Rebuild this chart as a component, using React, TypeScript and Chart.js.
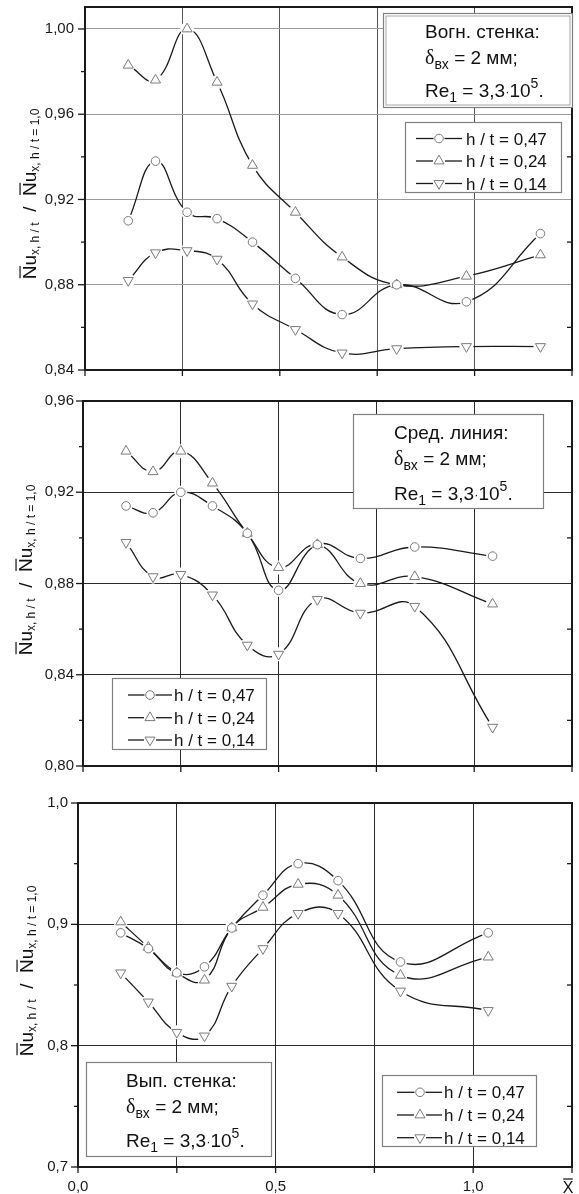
import React, { useEffect, useRef } from 'react';
import { Chart, registerables } from 'chart.js';
import { drawPoint } from 'chart.js/helpers';

Chart.register(...registerables);

const FONT = '"Liberation Sans", Arial, sans-serif';
const SERIF = '"Liberation Serif", "DejaVu Serif", serif';

// ---------- data ----------
const xTicks = [0, 0.25, 0.5, 0.75, 1.0, 1.25];
const xTickLabels = ['0,0', '', '0,5', '', '1,0', ''];
const seriesLabels = ['h / t = 0,47', 'h / t = 0,24', 'h / t = 0,14'];
const wallTitles = ['Вогн. стенка:', 'Сред. линия:', 'Вып. стенка:'];

// Panel 1 – concave wall
const p1YTicks = [0.84, 0.88, 0.92, 0.96, 1.0];
const p1X = [0.111, 0.181, 0.262, 0.339, 0.43, 0.54, 0.66, 0.8, 0.979, 1.169];
const p1H047 = [0.91, 0.938, 0.914, 0.911, 0.9, 0.883, 0.866, 0.88, 0.872, 0.904];
const p1H024 = [0.983, 0.976, 1.0, 0.975, 0.936, 0.914, 0.893, 0.88, 0.884, 0.894];
const p1H014 = [0.882, 0.895, 0.896, 0.892, 0.871, 0.859, 0.848, 0.85, 0.851, 0.851];

// Panel 2 – mid line
const p2YTicks = [0.8, 0.84, 0.88, 0.92, 0.96];
const p2X = [0.11, 0.179, 0.25, 0.331, 0.42, 0.5, 0.599, 0.709, 0.848, 1.047];
const p2H047 = [0.914, 0.911, 0.92, 0.914, 0.902, 0.877, 0.897, 0.891, 0.896, 0.892];
const p2H024 = [0.938, 0.929, 0.938, 0.924, 0.902, 0.887, 0.897, 0.88, 0.883, 0.871];
const p2H014 = [0.898, 0.883, 0.884, 0.875, 0.853, 0.849, 0.873, 0.867, 0.87, 0.817];

// Panel 3 – convex wall
const p3YTicks = [0.7, 0.8, 0.9, 1.0];
const p3X = [0.108, 0.178, 0.25, 0.32, 0.389, 0.468, 0.557, 0.658, 0.816, 1.038];
const p3H047 = [0.893, 0.88, 0.86, 0.865, 0.897, 0.924, 0.95, 0.936, 0.869, 0.893];
const p3H024 = [0.902, 0.881, 0.86, 0.854, 0.897, 0.914, 0.933, 0.924, 0.858, 0.873];
const p3H014 = [0.86, 0.836, 0.811, 0.808, 0.849, 0.88, 0.909, 0.909, 0.845, 0.829];

// ---------- styles ----------
const LINE_COLOR = '#1a1a1a';
const MARKER_COLOR = '#7a7a7a';
const MARKERS = [
  { style: 'circle', rot: 0, r: 4.3, gap: 6.5 },
  { style: 'triangle', rot: 0, r: 5.8, gap: 7 },
  { style: 'triangle', rot: 180, r: 5.8, gap: 7 },
];

type Seg = { t: string; size: number; dy?: number; serif?: boolean; over?: boolean };

interface PanelCfg {
  top: number;
  height: number;
  left: number;
  right: number;
  areaTop: number; // page coords
  areaBottom: number; // page coords
  x: number[];
  series: number[][];
  yMin: number;
  yMax: number;
  yTicks: number[];
  dec: number;
  yPad: number;
  gridH: string;
  gridV: string;
  showX: boolean;
  title: string;
  box: number[]; // x1,y1,x2,y2 page
  boxText: { x: number; base: number[] };
  double: boolean;
  legend: { box: number[]; rows: number[]; l0: number; l1: number; m: number; tx: number };
  yTitle: { x: number; cy: number };
}

const PANELS: PanelCfg[] = [
  {
    top: 0, height: 385, left: 85, right: 578, areaTop: 7, areaBottom: 370,
    x: p1X, series: [p1H047, p1H024, p1H014],
    yMin: 0.84, yMax: 1.0103, yTicks: p1YTicks, dec: 2, yPad: 11,
    gridH: '#9a9a9a', gridV: '#555555', showX: false, title: wallTitles[0],
    box: [383, 13, 573, 108], boxText: { x: 425, base: [37.5, 63.5, 97] }, double: true,
    legend: { box: [405, 122, 562, 193], rows: [138.5, 161, 183.5], l0: 416, l1: 462, m: 439, tx: 466 },
    yTitle: { x: 36, cy: 194 },
  },
  {
    top: 385, height: 395, left: 83, right: 578, areaTop: 401, areaBottom: 766,
    x: p2X, series: [p2H047, p2H024, p2H014],
    yMin: 0.8, yMax: 0.96, yTicks: p2YTicks, dec: 2, yPad: 9,
    gridH: '#2a2a2a', gridV: '#2a2a2a', showX: false, title: wallTitles[1],
    box: [353, 414, 544, 509], boxText: { x: 394, base: [439, 465, 500] }, double: false,
    legend: { box: [112, 678, 267, 750], rows: [695, 717.7, 740], l0: 128, l1: 172, m: 150, tx: 174 },
    yTitle: { x: 32, cy: 570 },
  },
  {
    top: 780, height: 414, left: 78, right: 577, areaTop: 803, areaBottom: 1167,
    x: p3X, series: [p3H047, p3H024, p3H014],
    yMin: 0.7, yMax: 1.0, yTicks: p3YTicks, dec: 1, yPad: 10,
    gridH: '#2a2a2a', gridV: '#2a2a2a', showX: true, title: wallTitles[2],
    box: [86, 1062, 272, 1157], boxText: { x: 126, base: [1087, 1113, 1147] }, double: false,
    legend: { box: [382, 1075, 537, 1147], rows: [1092.3, 1115, 1137.7], l0: 397, l1: 442, m: 420, tx: 444 },
    yTitle: { x: 33, cy: 971 },
  },
];

function drawRich(ctx: CanvasRenderingContext2D, segs: Seg[], x: number, y: number, measureOnly = false): number {
  let cx = x;
  for (const s of segs) {
    ctx.font = `${s.size}px ${s.serif ? SERIF : FONT}`;
    const w = ctx.measureText(s.t).width;
    if (!measureOnly) {
      ctx.fillText(s.t, cx, y + (s.dy || 0));
      if (s.over) {
        const oy = y + (s.dy || 0) - s.size * 0.84;
        ctx.beginPath();
        ctx.lineWidth = 1.2;
        ctx.moveTo(cx + 1, oy);
        ctx.lineTo(cx + w - 0.5, oy);
        ctx.stroke();
      }
    }
    cx += w;
  }
  return cx - x;
}

function line(ctx: CanvasRenderingContext2D, x0: number, y0: number, x1: number, y1: number) {
  ctx.beginPath();
  ctx.moveTo(x0, y0);
  ctx.lineTo(x1, y1);
  ctx.stroke();
}

function makeDeco(p: PanelCfg, idx: number) {
  return {
    id: 'deco' + idx,
    afterDraw(chart: any) {
      const ctx: CanvasRenderingContext2D = chart.ctx;
      const { left, right, top, bottom } = chart.chartArea;
      const xs = chart.scales.x;
      const ys = chart.scales.y;
      const oy = p.top;
      ctx.save();
      // ticks
      ctx.strokeStyle = LINE_COLOR;
      ctx.lineWidth = 1.3;
      for (let k = 0; k < p.yTicks.length; k++) {
        const y = ys.getPixelForValue(p.yTicks[k]);
        line(ctx, left - 7, y, left, y);
        if (k < p.yTicks.length - 1) {
          const ym = ys.getPixelForValue((p.yTicks[k] + p.yTicks[k + 1]) / 2);
          line(ctx, left - 4, ym, left, ym);
          line(ctx, right, ym, right - 5, ym);
        }
      }
      for (const v of xTicks) {
        const x = xs.getPixelForValue(v);
        line(ctx, x, bottom, x, bottom + 6);
      }
      // frame
      ctx.lineWidth = 2;
      ctx.strokeRect(left, top, right - left, bottom - top);

      // text box
      const [bx1, by1, bx2, by2] = p.box;
      ctx.fillStyle = '#fff';
      ctx.fillRect(bx1, by1 - oy, bx2 - bx1, by2 - by1);
      ctx.strokeStyle = '#808080';
      ctx.lineWidth = 1.2;
      ctx.strokeRect(bx1 + 0.5, by1 - oy + 0.5, bx2 - bx1 - 1, by2 - by1 - 1);
      if (p.double) {
        ctx.strokeStyle = '#a8a8a8';
        ctx.lineWidth = 1;
        ctx.strokeRect(bx1 + 3, by1 - oy + 3, bx2 - bx1 - 6, by2 - by1 - 6);
      }
      ctx.fillStyle = '#111';
      ctx.strokeStyle = '#111';
      ctx.textBaseline = 'alphabetic';
      ctx.textAlign = 'left';
      const tx = p.boxText.x;
      const bl = p.boxText.base.map((b) => b - oy);
      drawRich(ctx, [{ t: p.title, size: 19 }], tx, bl[0]);
      drawRich(ctx, [
        { t: 'δ', size: 20, serif: true },
        { t: 'вх', size: 14, dy: 5 },
        { t: ' = 2 мм;', size: 19 },
      ], tx, bl[1]);
      drawRich(ctx, [
        { t: 'Re', size: 19 },
        { t: '1', size: 14, dy: 5 },
        { t: ' = 3,3', size: 19 },
        { t: '·', size: 13, dy: -1 },
        { t: '10', size: 19 },
        { t: '5', size: 14, dy: -9 },
        { t: '.', size: 19 },
      ], tx, bl[2]);

      // legend
      const L = p.legend;
      const [lx1, ly1, lx2, ly2] = L.box;
      ctx.fillStyle = '#fff';
      ctx.fillRect(lx1, ly1 - oy, lx2 - lx1, ly2 - ly1);
      ctx.strokeStyle = '#808080';
      ctx.lineWidth = 1.2;
      ctx.strokeRect(lx1 + 0.5, ly1 - oy + 0.5, lx2 - lx1 - 1, ly2 - ly1 - 1);
      for (let i = 0; i < 3; i++) {
        const ry = L.rows[i] - oy;
        const m = MARKERS[i];
        ctx.strokeStyle = LINE_COLOR;
        ctx.lineWidth = 1.3;
        line(ctx, L.l0, ry, L.m - m.gap + 1, ry);
        line(ctx, L.m + m.gap - 1, ry, L.l1, ry);
        ctx.fillStyle = '#fff';
        ctx.strokeStyle = MARKER_COLOR;
        ctx.lineWidth = 1;
        drawPoint(ctx, { pointStyle: m.style as any, rotation: m.rot, radius: m.r, borderWidth: 1 }, L.m, ry);
        ctx.fillStyle = '#111';
        ctx.font = `17px ${FONT}`;
        ctx.fillText(seriesLabels[i], L.tx, ry + 6);
      }

      // y title (rotated)
      ctx.fillStyle = '#111';
      ctx.strokeStyle = '#111';
      const segs: Seg[] = [
        { t: 'N', size: 19, over: true },
        { t: 'u', size: 19 },
        { t: 'x, h / t', size: 12, dy: 3 },
        { t: '  /  ', size: 19 },
        { t: 'N', size: 19, over: true },
        { t: 'u', size: 19 },
        { t: 'x, h / t = 1,0', size: 12, dy: 3 },
      ];
      ctx.save();
      ctx.translate(p.yTitle.x, p.yTitle.cy - oy);
      ctx.rotate(-Math.PI / 2);
      const total = drawRich(ctx, segs, 0, 0, true);
      drawRich(ctx, segs, -total / 2, 0);
      ctx.restore();

      // x title
      if (p.showX) {
        ctx.font = `16px ${FONT}`;
        const w = ctx.measureText('X').width;
        const xx = 568 - w / 2;
        const yy = 1193 - oy;
        ctx.fillText('X', xx, yy);
        ctx.lineWidth = 1.2;
        line(ctx, xx + 0.5, yy - 14, xx + w - 0.5, yy - 14);
      }
      ctx.restore();
    },
  };
}

function buildConfig(p: PanelCfg, idx: number): any {
  const datasets: any[] = [];
  p.series.forEach((vals, i) => {
    const pts = p.x.map((x, j) => ({ x, y: vals[j] }));
    const m = MARKERS[i];
    datasets.push({
      label: seriesLabels[i],
      data: pts,
      showLine: false,
      pointStyle: m.style,
      pointRotation: m.rot,
      pointRadius: m.r,
      pointBorderWidth: 1,
      pointBorderColor: MARKER_COLOR,
      pointBackgroundColor: '#fff',
      order: 0,
    });
    datasets.push({
      label: seriesLabels[i] + ' (curve)',
      data: pts,
      showLine: true,
      borderColor: LINE_COLOR,
      borderWidth: 1.3,
      tension: 0.45,
      pointStyle: 'circle',
      pointRadius: m.gap,
      pointBorderWidth: 0,
      pointBackgroundColor: '#fff',
      order: 1,
    });
  });
  const fontTick = { family: FONT, size: 15 };
  return {
    type: 'line',
    data: { datasets },
    options: {
      responsive: false,
      maintainAspectRatio: false,
      animation: false,
      events: [],
      layout: { padding: { left: 0, top: p.areaTop - p.top, right: 579 - p.right, bottom: 0 } },
      plugins: { legend: { display: false }, tooltip: { enabled: false } },
      scales: {
        x: {
          type: 'linear',
          min: 0,
          max: 1.25,
          afterBuildTicks: (a: any) => {
            a.ticks = xTicks.map((v) => ({ value: v }));
          },
          afterFit: (a: any) => {
            a.height = p.top + p.height - p.areaBottom;
            a.paddingLeft = 0;
            a.paddingRight = 0;
          },
          grid: { color: p.gridV, lineWidth: 1, drawTicks: false },
          border: { display: false },
          ticks: {
            display: p.showX,
            padding: 11,
            autoSkip: false,
            maxRotation: 0,
            color: '#1a1a1a',
            font: fontTick,
            callback: (_v: any, i: number) => xTickLabels[i],
          },
        },
        y: {
          type: 'linear',
          min: p.yMin,
          max: p.yMax,
          afterBuildTicks: (a: any) => {
            a.ticks = p.yTicks.map((v) => ({ value: v }));
          },
          afterFit: (a: any) => {
            a.width = p.left;
            a.paddingTop = 0;
            a.paddingBottom = 0;
          },
          grid: { color: p.gridH, lineWidth: 1, drawTicks: false },
          border: { display: false },
          ticks: {
            padding: p.yPad,
            autoSkip: false,
            color: '#1a1a1a',
            font: fontTick,
            callback: (v: any) => Number(v).toFixed(p.dec).replace('.', ','),
          },
        },
      },
    },
    plugins: [makeDeco(p, idx)],
  };
}

function Panel({ cfg, idx }: { cfg: PanelCfg; idx: number }) {
  const ref = useRef<HTMLCanvasElement>(null);
  useEffect(() => {
    const chart = new Chart(ref.current as HTMLCanvasElement, buildConfig(cfg, idx));
    return () => chart.destroy();
  }, [cfg, idx]);
  return (
    <canvas
      ref={ref}
      width={579}
      height={cfg.height}
      style={{ position: 'absolute', left: 0, top: cfg.top, width: 579, height: cfg.height }}
    />
  );
}

export default function App() {
  return (
    <div style={{ position: 'fixed', left: 0, top: 0, width: 579, height: 1194, background: '#fff', overflow: 'hidden' }}>
      {PANELS.map((p, i) => (
        <Panel key={i} cfg={p} idx={i} />
      ))}
    </div>
  );
}
